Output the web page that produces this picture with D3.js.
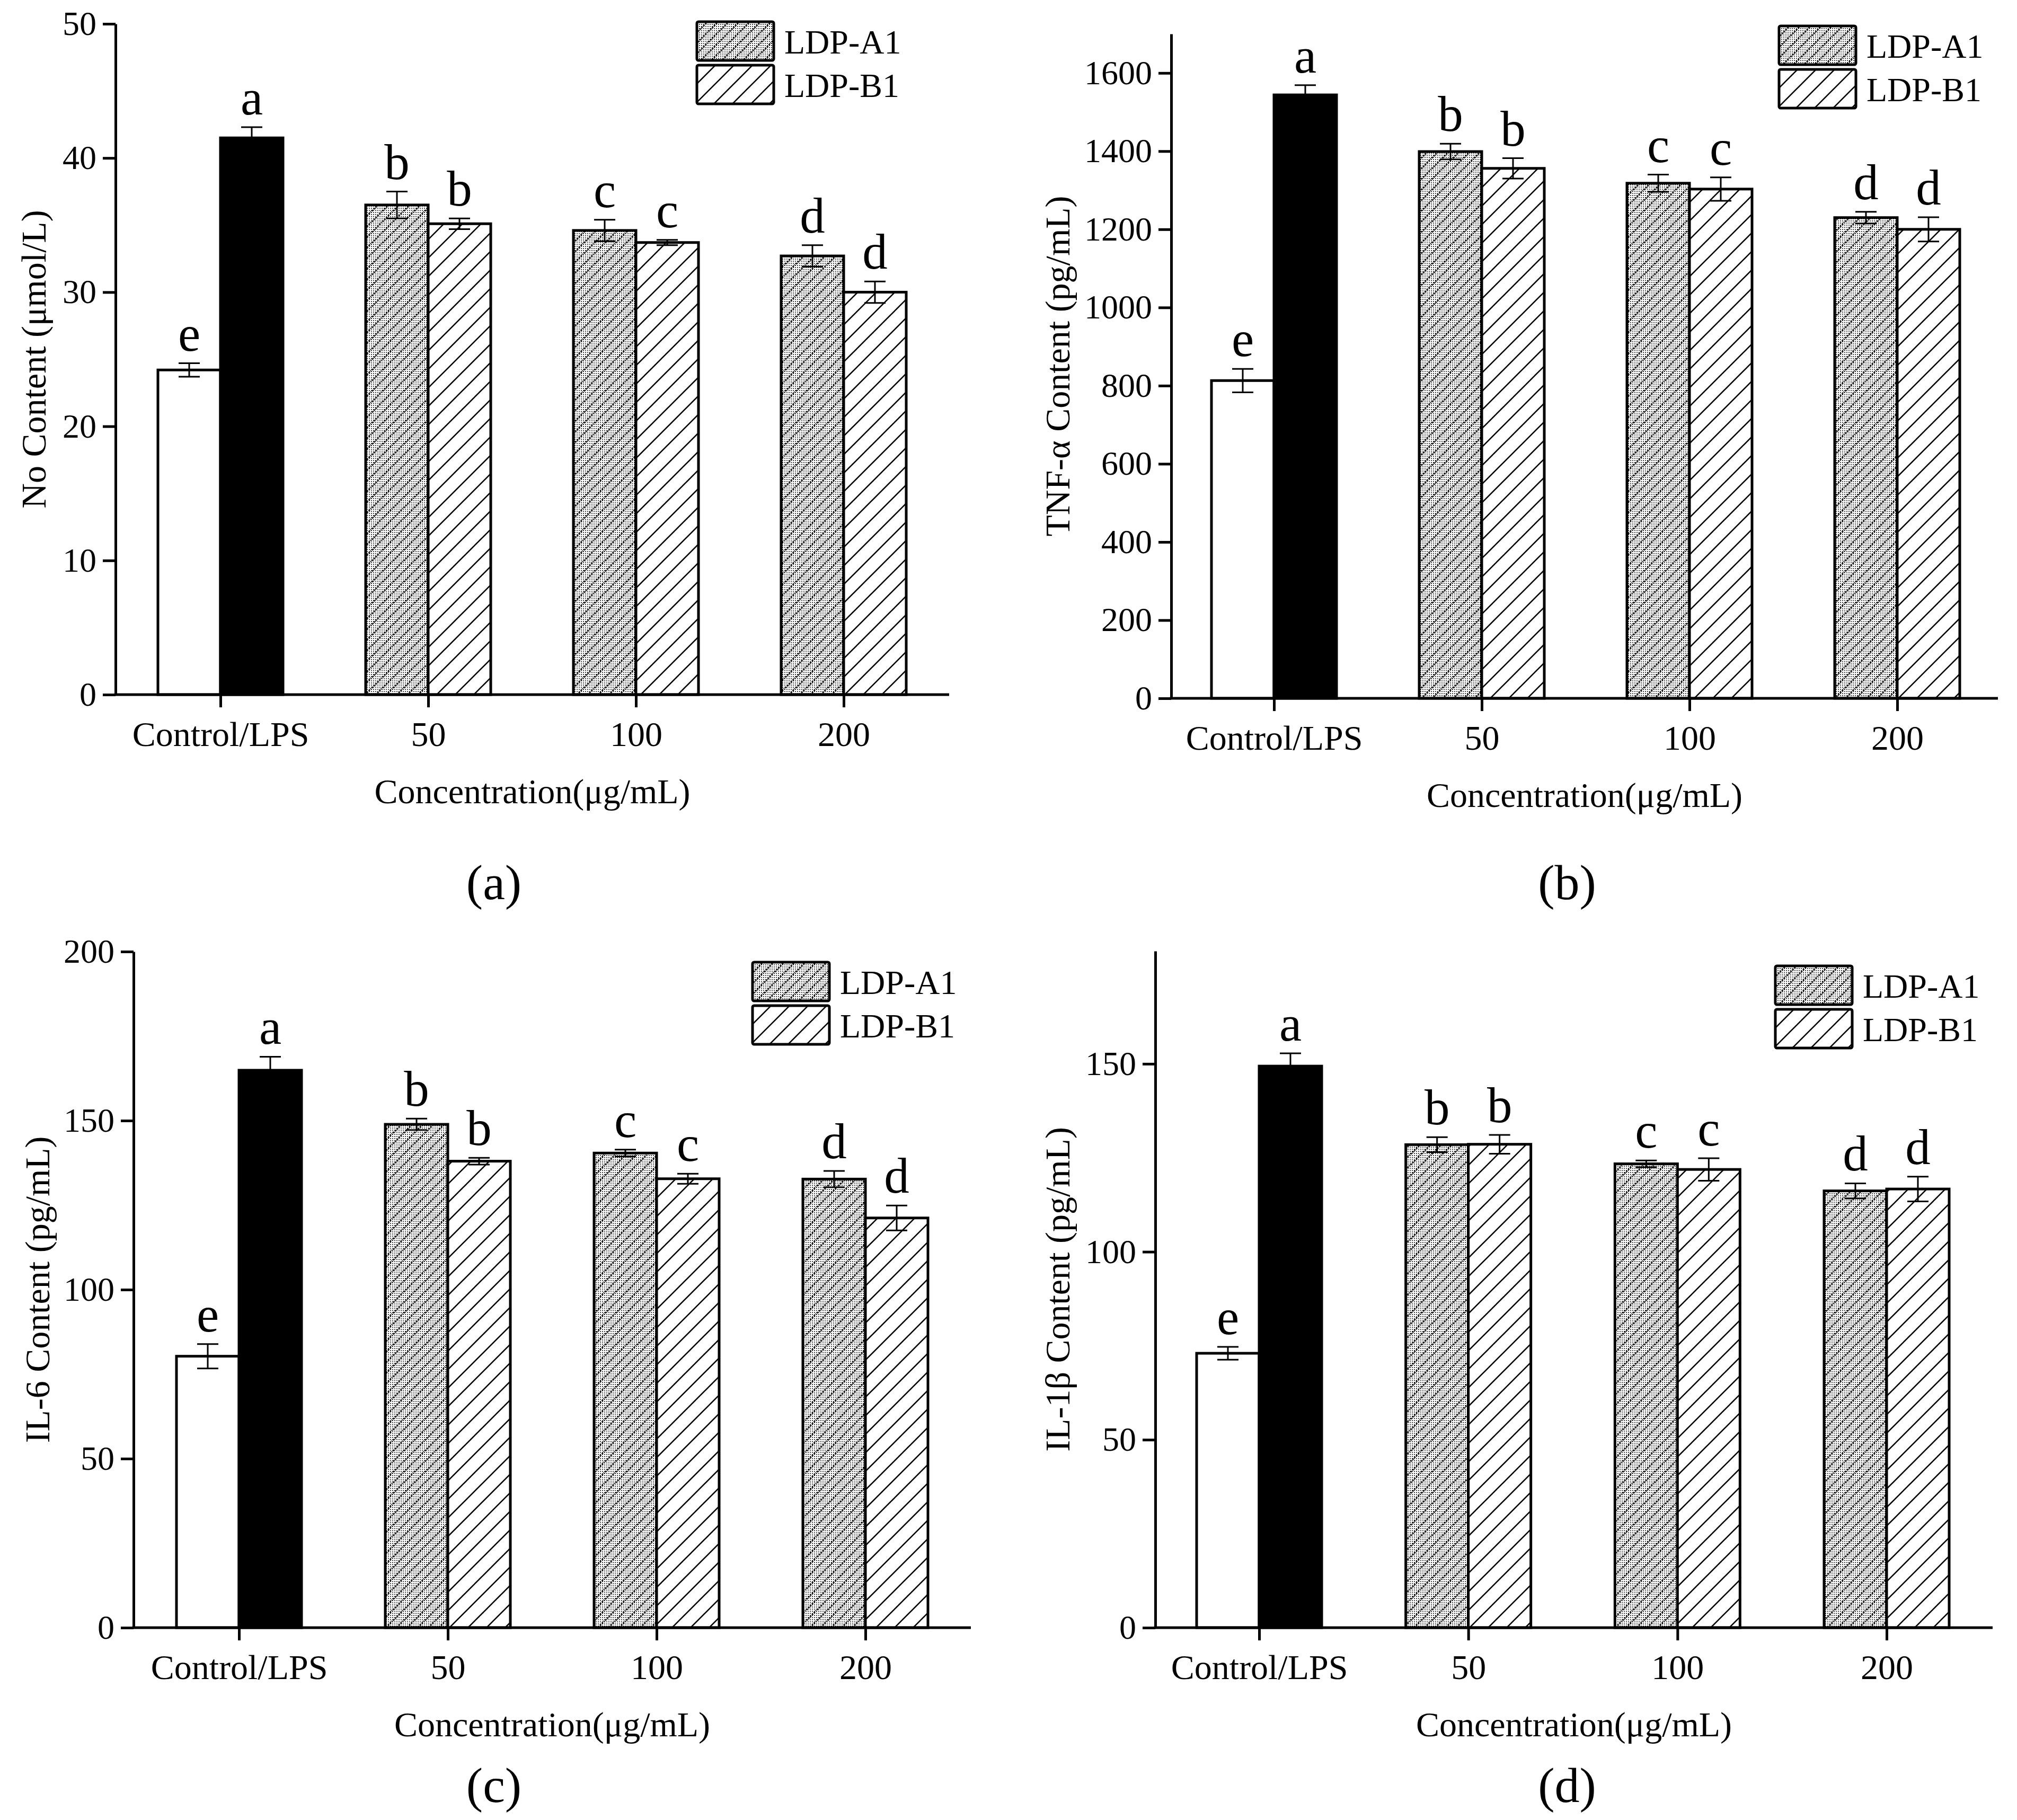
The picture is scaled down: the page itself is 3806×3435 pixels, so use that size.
<!DOCTYPE html>
<html>
<head>
<meta charset="utf-8">
<script src="https://cdn.jsdelivr.net/npm/d3@7"></script>
<style>
  body { margin: 0; background: #fff; }
  text { font-family: "Liberation Serif", "Times New Roman", serif; fill: #000; }
</style>
</head>
<body>
<div id="chart"></div>
<script>
// categories on the x axis and the 8 bars drawn in every panel
var categories = ["Control/LPS", "50", "100", "200"];
var barCategory = ["Control/LPS", "Control/LPS", "50", "50", "100", "100", "200", "200"];
var barKind = ["control", "lps", "a1", "b1", "a1", "b1", "a1", "b1"];
var legendLabels = ["LDP-A1", "LDP-B1"];

// (a) NO content, umol/L
var noValues = [24.2, 41.5, 36.5, 35.1, 34.6, 33.7, 32.7, 30.0];
var noErrors = [0.5, 0.8, 1.0, 0.4, 0.8, 0.2, 0.8, 0.8];
var noLetters = ["e", "a", "b", "b", "c", "c", "d", "d"];
var noTicks = [0, 10, 20, 30, 40, 50];

// (b) TNF-alpha, pg/mL
var tnfValues = [813, 1544, 1399, 1356, 1318, 1303, 1230, 1200];
var tnfErrors = [30, 25, 20, 26, 22, 30, 15, 31];
var tnfLetters = ["e", "a", "b", "b", "c", "c", "d", "d"];
var tnfTicks = [0, 200, 400, 600, 800, 1000, 1200, 1400, 1600];

// (c) IL-6, pg/mL
var il6Values = [80.3, 164.9, 148.9, 138.0, 140.4, 132.8, 132.7, 121.2];
var il6Errors = [3.6, 4.0, 1.7, 1.0, 1.0, 1.5, 2.4, 3.7];
var il6Letters = ["e", "a", "b", "b", "c", "c", "d", "d"];
var il6Ticks = [0, 50, 100, 150, 200];

// (d) IL-1beta, pg/mL
var il1bValues = [73.0, 149.4, 128.5, 128.6, 123.4, 121.9, 116.2, 116.7];
var il1bErrors = [1.7, 3.4, 2.0, 2.5, 0.9, 3.0, 2.0, 3.3];
var il1bLetters = ["e", "a", "b", "b", "c", "c", "d", "d"];
var il1bTicks = [0, 50, 100, 150];

var width = 3806, height = 3435;

var svg = d3.select("#chart")
  .append("svg")
  .attr("width", width)
  .attr("height", height);

svg.append("rect").attr("width", width).attr("height", height).attr("fill", "#fff");

// fill patterns
var defs = svg.append("defs");

var pA = defs.append("pattern")
  .attr("id", "patA1")
  .attr("patternUnits", "userSpaceOnUse")
  .attr("width", 20).attr("height", 20);
pA.append("rect").attr("width", 20).attr("height", 20).attr("fill", "#fff");
d3.range(0, 20, 4).forEach(function(i) {
  d3.range(0, 20, 4).forEach(function(j) {
    pA.append("rect").attr("x", i).attr("y", j).attr("width", 2).attr("height", 2).attr("fill", "#444");
  });
});
pA.append("path")
  .attr("d", "M-2,22 L22,-2 M-5,5 L5,-5 M15,25 L25,15")
  .attr("stroke", "#111").attr("stroke-width", 3).attr("stroke-dasharray", "3,2");

var pB = defs.append("pattern")
  .attr("id", "patB1")
  .attr("patternUnits", "userSpaceOnUse")
  .attr("width", 35).attr("height", 35);
pB.append("rect").attr("width", 35).attr("height", 35).attr("fill", "#fff");
pB.append("path")
  .attr("d", "M0,35 L35,0 M-5,5 L5,-5 M30,40 L40,30")
  .attr("stroke", "#000").attr("stroke-width", 2.6);

var fills = { control: "#fff", lps: "#000", a1: "url(#patA1)", b1: "url(#patB1)" };

var panels = [
  { label: "(a)", values: noValues, errors: noErrors, letters: noLetters, ticks: noTicks, max: 50,
    title: "No Content (\u03bcmol/L)",
    axisX: 218, y0: 1311, yTop: 45, catStart: 416, catEnd: 1592, xEnd: 1791,
    titleX: 63, legX: 1315, legY: 41, labelX: 932, labelY: 1665 },
  { label: "(b)", values: tnfValues, errors: tnfErrors, letters: tnfLetters, ticks: tnfTicks, max: 1700,
    title: "TNF-\u03b1 Content (pg/mL)",
    axisX: 2210, y0: 1318, yTop: 64, catStart: 2404, catEnd: 3580, xEnd: 3770,
    titleX: 1995, legX: 3357, legY: 49, labelX: 2957, labelY: 1665 },
  { label: "(c)", values: il6Values, errors: il6Errors, letters: il6Letters, ticks: il6Ticks, max: 200,
    title: "IL-6 Content (pg/mL)",
    axisX: 252, y0: 3072, yTop: 1796, catStart: 451, catEnd: 1633, xEnd: 1832,
    titleX: 70, legX: 1420, legY: 1816, labelX: 932, labelY: 3369 },
  { label: "(d)", values: il1bValues, errors: il1bErrors, letters: il1bLetters, ticks: il1bTicks, max: 180,
    title: "IL-1\u03b2 Content (pg/mL)",
    axisX: 2180, y0: 3072, yTop: 1795, catStart: 2376, catEnd: 3560, xEnd: 3760,
    titleX: 1995, legX: 3350, legY: 1823, labelX: 2957, labelY: 3369 }
];

var barWidth = 118;
var lineW = 5;

panels.forEach(function(p) {
  var g = svg.append("g");

  var xScale = d3.scalePoint()
    .domain(categories)
    .range([p.catStart, p.catEnd]);

  var yScale = d3.scaleLinear()
    .domain([0, p.max])
    .range([p.y0, p.yTop]);

  var bars = p.values.map(function(v, i) {
    return { value: v, err: p.errors[i], letter: p.letters[i], cat: barCategory[i], kind: barKind[i], side: i % 2 };
  });

  // bars
  g.selectAll(".bar")
    .data(bars)
    .enter()
    .append("rect")
    .attr("x", function(d) { return xScale(d.cat) + (d.side ? 0 : -barWidth); })
    .attr("y", function(d) { return yScale(d.value); })
    .attr("width", barWidth)
    .attr("height", function(d) { return p.y0 - yScale(d.value); })
    .attr("fill", function(d) { return fills[d.kind]; })
    .attr("stroke", "#000")
    .attr("stroke-width", lineW);

  // error bars
  var eb = g.selectAll(".err")
    .data(bars)
    .enter()
    .append("g")
    .attr("transform", function(d) {
      return "translate(" + (xScale(d.cat) + (d.side ? barWidth / 2 : -barWidth / 2)) + ",0)";
    });
  eb.append("line")
    .attr("x1", 0).attr("x2", 0)
    .attr("y1", function(d) { return yScale(d.value - d.err); })
    .attr("y2", function(d) { return yScale(d.value + d.err); })
    .attr("stroke", "#000")
    .attr("stroke-width", 3);
  eb.append("line")
    .attr("x1", -20).attr("x2", 20)
    .attr("y1", function(d) { return yScale(d.value + d.err); })
    .attr("y2", function(d) { return yScale(d.value + d.err); })
    .attr("stroke", "#000").attr("stroke-width", 3);
  eb.append("line")
    .attr("x1", -20).attr("x2", 20)
    .attr("y1", function(d) { return yScale(d.value - d.err); })
    .attr("y2", function(d) { return yScale(d.value - d.err); })
    .attr("stroke", "#000").attr("stroke-width", 3);

  // significance letters
  eb.append("text")
    .attr("x", 0)
    .attr("y", function(d) { return yScale(d.value + d.err) - 24; })
    .attr("text-anchor", "middle")
    .style("font-size", "95px")
    .text(function(d) { return d.letter; });

  // y axis
  var yAxis = g.append("g")
    .attr("transform", "translate(" + p.axisX + ",0)")
    .call(d3.axisLeft(yScale).tickValues(p.ticks).tickFormat(d3.format("d"))
      .tickSize(24).tickSizeOuter(0).tickPadding(12));
  yAxis.select(".domain").attr("stroke-width", lineW);
  yAxis.selectAll(".tick line").attr("stroke-width", lineW);
  yAxis.selectAll(".tick text").style("font-size", "64px").attr("font-family", null);

  // x axis
  var xAxis = g.append("g")
    .attr("transform", "translate(0," + p.y0 + ")")
    .call(d3.axisBottom(xScale).tickSize(24).tickPadding(26));
  xAxis.select(".domain").remove();
  xAxis.selectAll(".tick line").attr("stroke-width", lineW);
  xAxis.selectAll(".tick text").style("font-size", "66px").attr("font-family", null);
  g.append("line")
    .attr("x1", p.axisX - lineW / 2).attr("x2", p.xEnd)
    .attr("y1", p.y0).attr("y2", p.y0)
    .attr("stroke", "#000").attr("stroke-width", lineW);

  // axis titles
  g.append("text")
    .attr("x", (p.axisX + p.xEnd) / 2)
    .attr("y", p.y0 + 182)
    .attr("text-anchor", "middle")
    .attr("dominant-baseline", "central")
    .style("font-size", "66px")
    .text("Concentration(\u03bcg/mL)");

  g.append("text")
    .attr("transform", "translate(" + p.titleX + "," + (p.y0 + p.yTop) / 2 + ") rotate(-90)")
    .attr("text-anchor", "middle")
    .attr("dominant-baseline", "central")
    .style("font-size", "66px")
    .text(p.title);

  // panel label
  g.append("text")
    .attr("x", p.labelX)
    .attr("y", p.labelY)
    .attr("text-anchor", "middle")
    .attr("dominant-baseline", "central")
    .style("font-size", "94px")
    .text(p.label);

  // legend
  var leg = g.selectAll(".leg")
    .data(legendLabels)
    .enter()
    .append("g")
    .attr("transform", function(d, i) { return "translate(" + p.legX + "," + (p.legY + i * 82) + ")"; });
  leg.append("rect")
    .attr("width", 145).attr("height", 73)
    .attr("rx", 3)
    .attr("fill", function(d, i) { return i == 0 ? fills.a1 : fills.b1; })
    .attr("stroke", "#000").attr("stroke-width", lineW);
  leg.append("text")
    .attr("x", 165)
    .attr("y", 38)
    .attr("dominant-baseline", "central")
    .style("font-size", "64px")
    .text(function(d) { return d; });
});
</script>
</body>
</html>
